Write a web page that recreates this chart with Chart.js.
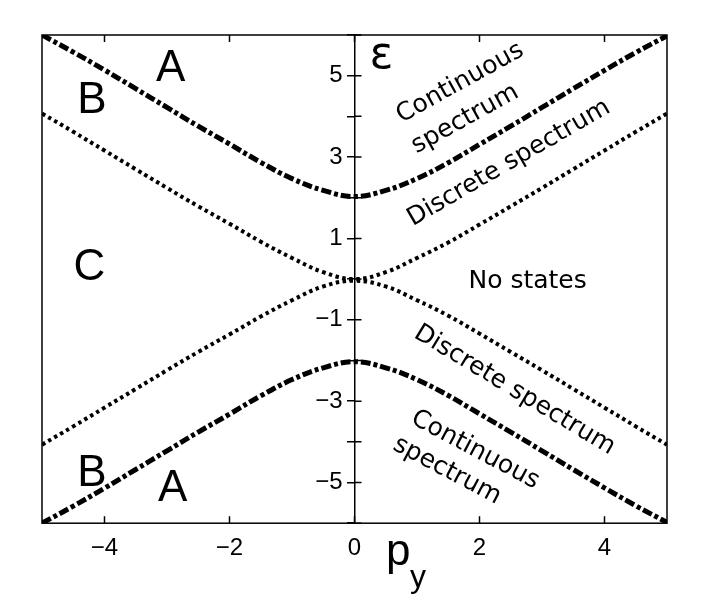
<!DOCTYPE html>
<html>
<head>
<meta charset="utf-8">
<script src="https://cdn.jsdelivr.net/npm/chart.js@4.4.0/dist/chart.umd.min.js"></script>
<style>
  html, body { margin: 0; padding: 0; background: #fff; }
  #wrap { width: 706px; height: 600px; }
</style>
</head>
<body>
<div id="wrap"><canvas id="chart" width="706" height="600"></canvas></div>
<script>
// ----------------------------
// Data
// ----------------------------
const momentum = [-5, -4.5, -4, -3.5, -3, -2.5, -2, -1.5, -1, -0.5, 0,
                  0.5, 1, 1.5, 2, 2.5, 3, 3.5, 4, 4.5, 5];

// dash-dot curves: edge of the continuous spectrum
const continuumUpper = [6.0, 5.58, 5.14, 4.68, 4.22, 3.76, 3.32, 2.87, 2.47, 2.18, 2.03,
                        2.18, 2.47, 2.86, 3.31, 3.76, 4.22, 4.68, 5.13, 5.57, 5.98];
const continuumLower = [-6.0, -5.58, -5.14, -4.68, -4.22, -3.76, -3.32, -2.87, -2.47, -2.18, -2.03,
                        -2.18, -2.47, -2.86, -3.31, -3.76, -4.22, -4.68, -5.13, -5.57, -5.98];

// dotted curves: edge of the discrete spectrum
const discreteUpper = [4.07, 3.62, 3.16, 2.70, 2.24, 1.79, 1.36, 0.92, 0.52, 0.17, 0.0,
                       0.17, 0.52, 0.90, 1.34, 1.79, 2.24, 2.70, 3.16, 3.62, 4.07];
const discreteLower = [-4.07, -3.62, -3.16, -2.70, -2.24, -1.79, -1.36, -0.92, -0.52, -0.18, -0.04,
                       -0.18, -0.52, -0.90, -1.34, -1.79, -2.24, -2.70, -3.16, -3.62, -4.07];

const xTickValues = [-4, -2, 0, 2, 4];
const yLabelValues = [-5, -3, -1, 1, 3, 5];

// ----------------------------
// Annotations (data coordinates)
// ----------------------------
const LABEL_FONT = '44px "Liberation Sans", Arial, sans-serif';
const NOTE_FONT = '25px "DejaVu Sans", Verdana, sans-serif';

const annotations = [
  { text: 'A', p: -2.94, e: 5.16, font: LABEL_FONT, angle: 0 },
  { text: 'B', p: -4.20, e: 4.37, font: LABEL_FONT, angle: 0 },
  { text: 'C', p: -4.24, e: 0.28, font: LABEL_FONT, angle: 0 },
  { text: 'B', p: -4.20, e: -4.79, font: LABEL_FONT, angle: 0 },
  { text: 'A', p: -2.91, e: -5.16, font: LABEL_FONT, angle: 0 },
  { text: 'ε', p: 0.43, e: 5.48, font: '44px "DejaVu Sans", sans-serif', angle: 0 },
  { text: 'Continuous', p: 1.69, e: 4.82, font: NOTE_FONT, angle: -29 },
  { text: 'spectrum', p: 1.77, e: 3.93, font: NOTE_FONT, angle: -29 },
  { text: 'Discrete spectrum', p: 2.47, e: 2.85, font: NOTE_FONT, angle: -30 },
  { text: 'No states', p: 2.77, e: -0.06, font: NOTE_FONT, angle: 0 },
  { text: 'Discrete spectrum', p: 2.56, e: -2.73, font: NOTE_FONT, angle: 31 },
  { text: 'Continuous', p: 1.93, e: -4.20, font: NOTE_FONT, angle: 28 },
  { text: 'spectrum', p: 1.48, e: -4.71, font: NOTE_FONT, angle: 28 }
];

const toPoints = (ys) => momentum.map((p, i) => ({ x: p, y: ys[i] }));
const fmt = (v) => (v < 0 ? '\u2212' + Math.abs(v) : String(v));

const dashDot = { borderColor: '#000', borderWidth: 5, borderDash: [10, 3, 4, 3],
                  pointRadius: 0, tension: 0.4, fill: false, borderCapStyle: 'butt' };
const dotted = { borderColor: '#000', borderWidth: 4, borderDash: [3.5, 3.5],
                 pointRadius: 0, tension: 0.4, fill: false, borderCapStyle: 'butt' };

// frame, inward ticks, and text labels
const framePlugin = {
  id: 'frameAndText',
  afterDraw(chart) {
    const { ctx, chartArea: a, scales: { x, y } } = chart;
    ctx.save();
    ctx.strokeStyle = '#000';
    ctx.lineWidth = 1.5;
    ctx.strokeRect(a.left, a.top, a.right - a.left, a.bottom - a.top);

    ctx.beginPath();
    xTickValues.forEach(v => {
      const px = x.getPixelForValue(v);
      ctx.moveTo(px, a.top); ctx.lineTo(px, a.top + 7);
      ctx.moveTo(px, a.bottom); ctx.lineTo(px, a.bottom - 7);
    });
    const x0 = x.getPixelForValue(0);
    y.ticks.forEach(t => {
      const py = y.getPixelForValue(t.value);
      ctx.moveTo(x0, py); ctx.lineTo(x0 + 7, py);
    });
    ctx.stroke();

    ctx.fillStyle = '#000';
    ctx.textAlign = 'center';
    ctx.textBaseline = 'middle';
    annotations.forEach(n => {
      ctx.save();
      ctx.translate(x.getPixelForValue(n.p), y.getPixelForValue(n.e));
      ctx.rotate(n.angle * Math.PI / 180);
      ctx.font = n.font;
      ctx.fillText(n.text, 0, 0);
      ctx.restore();
    });

    // axis title p_y
    ctx.textAlign = 'left';
    ctx.textBaseline = 'alphabetic';
    ctx.font = '44px "Liberation Sans", Arial, sans-serif';
    ctx.fillText('p', 386, 565);
    ctx.font = '32px "Liberation Sans", Arial, sans-serif';
    ctx.fillText('y', 410, 587);
    ctx.restore();
  }
};

new Chart(document.getElementById('chart').getContext('2d'), {
  type: 'line',
  data: {
    datasets: [
      { data: toPoints(continuumUpper), ...dashDot },
      { data: toPoints(continuumLower), ...dashDot },
      { data: toPoints(discreteUpper), ...dotted },
      { data: toPoints(discreteLower), ...dotted }
    ]
  },
  options: {
    responsive: false,
    animation: false,
    layout: { padding: { left: 42, right: 39, top: 35, bottom: 26 } },
    plugins: { legend: { display: false }, tooltip: { enabled: false } },
    scales: {
      x: {
        type: 'linear', min: -5, max: 5, position: 'bottom',
        afterBuildTicks: (s) => { s.ticks = xTickValues.map(v => ({ value: v })); },
        ticks: { color: '#000', padding: 11, maxRotation: 0,
                 font: { family: 'Liberation Sans', size: 24 }, callback: fmt },
        grid: { display: false, drawTicks: false },
        border: { display: false }
      },
      y: {
        type: 'linear', min: -6, max: 6, position: { x: 0 },
        ticks: { stepSize: 1, color: '#000', padding: 8,
                 font: { family: 'Liberation Sans', size: 24 },
                 // labels sit right-aligned on the centre axis, so pad with an en space
                 callback: (v) => (yLabelValues.includes(v) ? fmt(v) + '\u2002' : '') },
        grid: { drawOnChartArea: false, tickLength: 7, color: '#000', lineWidth: 1.5 },
        border: { display: true, color: '#000', width: 1.5 }
      }
    }
  },
  plugins: [framePlugin]
});
</script>
</body>
</html>
